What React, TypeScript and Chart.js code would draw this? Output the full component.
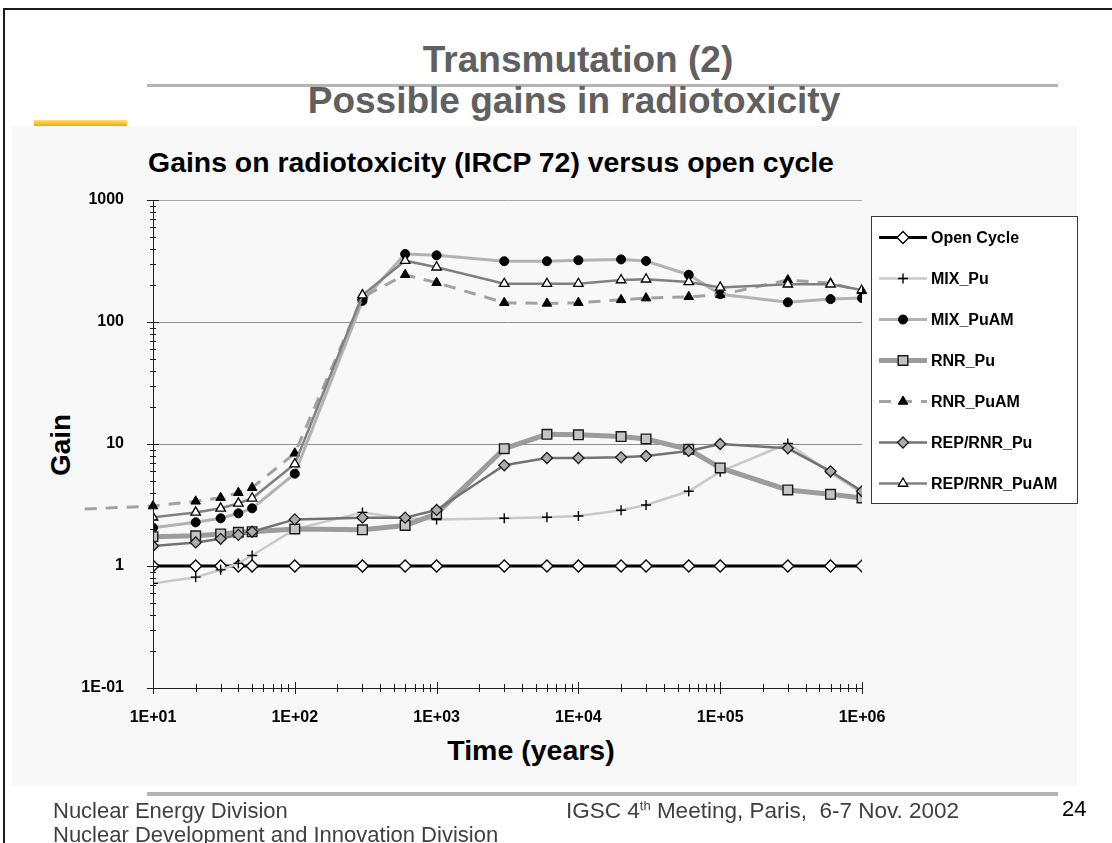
import React, { useEffect, useRef } from 'react';
import { Chart, registerables } from 'chart.js';
import { drawPoint } from 'chart.js/helpers';

Chart.register(...registerables);

// ---------- data ----------
const times = [10, 20, 30, 40, 50, 100, 300, 600, 1000, 3000, 6000, 10000, 20000, 30000, 60000, 100000, 300000, 600000, 1000000];

const openCycle = [1, 1, 1, 1, 1, 1, 1, 1, 1, 1, 1, 1, 1, 1, 1, 1, 1, 1, 1];
const mixPu = [0.72, 0.81, 0.93, 1.05, 1.22, 2.0, 2.75, 2.45, 2.4, 2.46, 2.51, 2.57, 2.86, 3.16, 4.1, 5.93, 10.1, 5.8, 3.95];
const mixPuAM = [2.06, 2.28, 2.46, 2.7, 2.97, 5.71, 149, 361, 352, 315, 315, 321, 326, 316, 244, 169, 145, 154, 157];
const rnrPu = [1.74, 1.77, 1.83, 1.89, 1.91, 2.01, 1.98, 2.15, 2.68, 9.16, 12.0, 11.9, 11.5, 11.0, 9.04, 6.36, 4.2, 3.87, 3.61];
const rnrPuAM = [3.1, 3.39, 3.63, 3.99, 4.38, 8.39, 160, 244, 210, 144, 142, 144, 152, 157, 161, 167, 221, 208, 180];
const repRnrPu = [1.46, 1.56, 1.67, 1.8, 1.91, 2.41, 2.49, 2.49, 2.88, 6.69, 7.68, 7.68, 7.78, 7.97, 8.77, 10.0, 9.22, 5.97, 4.1];
const repRnrPuAM = [2.51, 2.75, 2.97, 3.26, 3.59, 6.85, 166, 318, 281, 206, 206, 206, 221, 224, 213, 192, 204, 204, 183];

// RNR_PuAM line starts left of the axis in the original
const rnrPuAMLeadTime = 3.3;
const rnrPuAMLeadValue = 2.93;

const seriesNames = ['Open Cycle', 'MIX_Pu', 'MIX_PuAM', 'RNR_Pu', 'RNR_PuAM', 'REP/RNR_Pu', 'REP/RNR_PuAM'];
const seriesValues = [openCycle, mixPu, mixPuAM, rnrPu, rnrPuAM, repRnrPu, repRnrPuAM];

const xTickValues = [10, 100, 1000, 10000, 100000, 1000000];
const xTickLabels = ['1E+01', '1E+02', '1E+03', '1E+04', '1E+05', '1E+06'];
const yTickValues = [0.1, 1, 10, 100, 1000];
const yTickLabels = ['1E-01', '1', '10', '100', '1000'];

// ---------- styles ----------
const FONT = "'Liberation Sans', Arial, Helvetica, sans-serif";

const seriesStyles = [
  { color: '#000000', width: 3, dash: [], point: 'rectRot', radius: 6, fill: '#ffffff', stroke: '#000000', pbw: 1.3 },
  { color: '#c9c9c9', width: 2.5, dash: [], point: 'cross', radius: 5, fill: '#000000', stroke: '#000000', pbw: 1.4 },
  { color: '#b2b2b2', width: 3, dash: [], point: 'circle', radius: 4.5, fill: '#000000', stroke: '#000000', pbw: 1 },
  { color: '#9c9c9c', width: 5, dash: [], point: 'rect', radius: 6.8, fill: '#c4c4c4', stroke: '#1a1a1a', pbw: 1.4 },
  { color: '#a2a2a2', width: 3, dash: [12, 9], point: 'triangle', radius: 5.5, fill: '#000000', stroke: '#000000', pbw: 1 },
  { color: '#727272', width: 2.5, dash: [], point: 'rectRot', radius: 5.5, fill: '#acacac', stroke: '#1a1a1a', pbw: 1.3 },
  { color: '#808080', width: 2.5, dash: [], point: 'triangle', radius: 5.5, fill: '#ffffff', stroke: '#000000', pbw: 1.3 },
];

const axesPlugin = {
  id: 'excelAxes',
  afterDatasetsDraw(chart: any) {
    const { ctx, chartArea } = chart;
    const { left, right, top, bottom } = chartArea;
    const xs = chart.scales.x;
    const ys = chart.scales.y;
    ctx.save();
    ctx.strokeStyle = '#1e1e1e';
    ctx.lineWidth = 1;
    ctx.beginPath();
    ctx.moveTo(Math.round(left) + 0.5, top);
    ctx.lineTo(Math.round(left) + 0.5, bottom);
    ctx.moveTo(left, Math.round(bottom) + 0.5);
    ctx.lineTo(right, Math.round(bottom) + 0.5);
    const yLo = Math.round(Math.log10(ys.min));
    const yHi = Math.round(Math.log10(ys.max));
    for (let e = yLo; e <= yHi; e++) {
      for (let m = 1; m <= 9; m++) {
        const v = m * Math.pow(10, e);
        if (v > ys.max * 1.0001) break;
        const py = Math.round(ys.getPixelForValue(v)) + 0.5;
        const a = m === 1 ? 6 : 3;
        ctx.moveTo(left - a, py);
        ctx.lineTo(left + a, py);
      }
    }
    const xLo = Math.round(Math.log10(xs.min));
    const xHi = Math.round(Math.log10(xs.max));
    for (let e = xLo; e <= xHi; e++) {
      for (let m = 1; m <= 9; m++) {
        const v = m * Math.pow(10, e);
        if (v > xs.max * 1.0001) break;
        const px = Math.round(xs.getPixelForValue(v)) + 0.5;
        const a = m === 1 ? 6 : 4;
        ctx.moveTo(px, bottom - a);
        ctx.lineTo(px, bottom + a);
      }
    }
    ctx.stroke();
    ctx.restore();
  },
};

const legendPlugin = {
  id: 'boxLegend',
  afterDraw(chart: any) {
    const { ctx } = chart;
    const bx = chart.chartArea.right + 9;
    const by = 216;
    const bw = 206;
    const bh = 287;
    ctx.save();
    ctx.fillStyle = '#ffffff';
    ctx.fillRect(bx, by, bw, bh);
    ctx.strokeStyle = '#3a3a3a';
    ctx.lineWidth = 1;
    ctx.strokeRect(bx + 0.5, by + 0.5, bw, bh);
    seriesNames.forEach((name, i) => {
      const s = seriesStyles[i];
      const cy = by + 21.5 + i * 41;
      ctx.setLineDash(s.dash);
      ctx.strokeStyle = s.color;
      ctx.lineWidth = s.width;
      ctx.beginPath();
      ctx.moveTo(bx + 8, cy);
      ctx.lineTo(bx + 56, cy);
      ctx.stroke();
      ctx.setLineDash([]);
      ctx.fillStyle = s.fill;
      ctx.strokeStyle = s.stroke;
      ctx.lineWidth = s.pbw;
      drawPoint(ctx, { pointStyle: s.point, radius: s.radius, rotation: 0, borderWidth: s.pbw } as any, bx + 32, cy);
      ctx.fillStyle = '#000000';
      ctx.font = `bold 16px ${FONT}`;
      ctx.textBaseline = 'middle';
      ctx.textAlign = 'left';
      ctx.fillText(name, bx + 60, cy + 1);
    });
    ctx.restore();
  },
};

function buildDatasets() {
  return seriesNames.map((name, i) => {
    const s = seriesStyles[i];
    const vals = seriesValues[i];
    const data = times.map((t, k) => ({ x: t, y: vals[k] }));
    const lead = name === 'RNR_PuAM';
    if (lead) data.unshift({ x: rnrPuAMLeadTime, y: rnrPuAMLeadValue });
    return {
      label: name,
      data,
      borderColor: s.color,
      borderWidth: s.width,
      borderDash: s.dash,
      pointStyle: s.point,
      pointRadius: lead ? (c: any) => (c.dataIndex === 0 ? 0 : s.radius) : s.radius,
      pointBackgroundColor: s.fill,
      pointBorderColor: s.stroke,
      pointBorderWidth: s.pbw,
      tension: 0,
      fill: false,
      clip: lead ? false : undefined,
      order: seriesNames.length - i,
    } as any;
  });
}

function ChartCanvas() {
  const ref = useRef<HTMLCanvasElement | null>(null);
  useEffect(() => {
    if (!ref.current) return;
    const chart = new Chart(ref.current, {
      type: 'line',
      data: { datasets: buildDatasets() },
      options: {
        responsive: false,
        animation: false,
        devicePixelRatio: 1,
        layout: { padding: { top: 200, right: 250, left: 0, bottom: 0 } },
        plugins: { legend: { display: false }, tooltip: { enabled: false }, title: { display: false } },
        scales: {
          x: {
            type: 'logarithmic',
            min: 10,
            max: 1000000,
            position: 'bottom',
            grid: { display: false },
            border: { display: false },
            afterBuildTicks: (scale: any) => {
              scale.ticks = xTickValues.map((v) => ({ value: v }));
            },
            afterFit: (scale: any) => {
              scale.height = 155;
            },
            ticks: {
              autoSkip: false,
              maxRotation: 0,
              padding: 12,
              color: '#000000',
              font: { family: FONT, size: 16, weight: 'bold' },
              callback: (_v: any, i: number) => xTickLabels[i],
            },
          },
          y: {
            type: 'logarithmic',
            min: 0.1,
            max: 1000,
            grid: {
              color: (c: any) => (c.tick && c.tick.value === 1000 ? '#a8a8a8' : '#8f8f8f'),
              lineWidth: 1,
              drawTicks: false,
            },
            border: { display: false },
            afterBuildTicks: (scale: any) => {
              scale.ticks = yTickValues.map((v) => ({ value: v }));
            },
            afterFit: (scale: any) => {
              scale.width = 153;
            },
            ticks: {
              autoSkip: false,
              padding: 29,
              color: '#000000',
              font: { family: FONT, size: 16, weight: 'bold' },
              callback: (_v: any, i: number) => yTickLabels[i],
            },
          },
        },
      } as any,
      plugins: [axesPlugin, legendPlugin],
    });
    return () => chart.destroy();
  }, []);
  return (
    <canvas
      ref={ref}
      width={1112}
      height={843}
      style={{ position: 'absolute', left: 0, top: 0, width: 1112, height: 843 }}
    />
  );
}

const abs = (o: React.CSSProperties): React.CSSProperties => ({ position: 'absolute', margin: 0, ...o });

export default function App() {
  return (
    <div style={abs({ left: 0, top: 0, width: 1112, height: 843, overflow: 'hidden', background: '#ffffff', fontFamily: FONT })}>
      {/* slide frame */}
      <div style={abs({ left: 3, top: 8, width: 1109, height: 835, borderTop: '2px solid #1c1c1c', borderLeft: '2px solid #1c1c1c' })} />
      {/* slide title */}
      <div style={abs({ left: 0, top: 41, width: 1156, textAlign: 'center', fontSize: 37, lineHeight: '37px', fontWeight: 'bold', color: '#606060' })}>
        Transmutation (2)
      </div>
      <div style={abs({ left: 147, top: 84, width: 911, height: 3, background: '#b4b4b4' })} />
      <div style={abs({ left: 0, top: 82, width: 1148, textAlign: 'center', fontSize: 37, lineHeight: '37px', fontWeight: 'bold', color: '#606060' })}>
        Possible gains in radiotoxicity
      </div>
      <div style={abs({ left: 34, top: 120, width: 93, height: 6, background: 'linear-gradient(#ffe07a, #f2a900)' })} />
      {/* chart panel */}
      <div style={abs({ left: 12, top: 126, width: 1065, height: 660, background: '#f8f8f8' })} />
      <div style={abs({ left: 0, top: 148, width: 982, textAlign: 'center', fontSize: 28.4, lineHeight: '28px', fontWeight: 'bold', color: '#000000' })}>
        Gains on radiotoxicity (IRCP 72) versus open cycle
      </div>
      <div style={abs({ left: 61, top: 445, transform: 'translate(-50%, -50%) rotate(-90deg)', fontSize: 28, lineHeight: '28px', fontWeight: 'bold', color: '#000000', whiteSpace: 'nowrap' })}>
        Gain
      </div>
      <div style={abs({ left: 0, top: 736, width: 1062, textAlign: 'center', fontSize: 28.5, lineHeight: '28px', fontWeight: 'bold', color: '#000000' })}>
        Time (years)
      </div>
      <ChartCanvas />
      {/* footer */}
      <div style={abs({ left: 147, top: 792, width: 911, height: 4, background: '#b4b4b4' })} />
      <div style={abs({ left: 53, top: 800, fontSize: 22, lineHeight: '22px', color: '#404040', whiteSpace: 'nowrap' })}>
        Nuclear Energy Division
      </div>
      <div style={abs({ left: 53, top: 824, fontSize: 22, lineHeight: '22px', color: '#404040', whiteSpace: 'nowrap' })}>
        Nuclear Development and Innovation Division
      </div>
      <div style={abs({ left: 566, top: 800, fontSize: 22.5, lineHeight: '22px', color: '#404040', whiteSpace: 'pre' })}>
        IGSC 4<sup style={{ fontSize: 13, lineHeight: '0px', verticalAlign: 'super' }}>th</sup> Meeting, Paris,  6-7 Nov. 2002
      </div>
      <div style={abs({ left: 1062, top: 798, fontSize: 22, lineHeight: '22px', color: '#000000' })}>24</div>
    </div>
  );
}
